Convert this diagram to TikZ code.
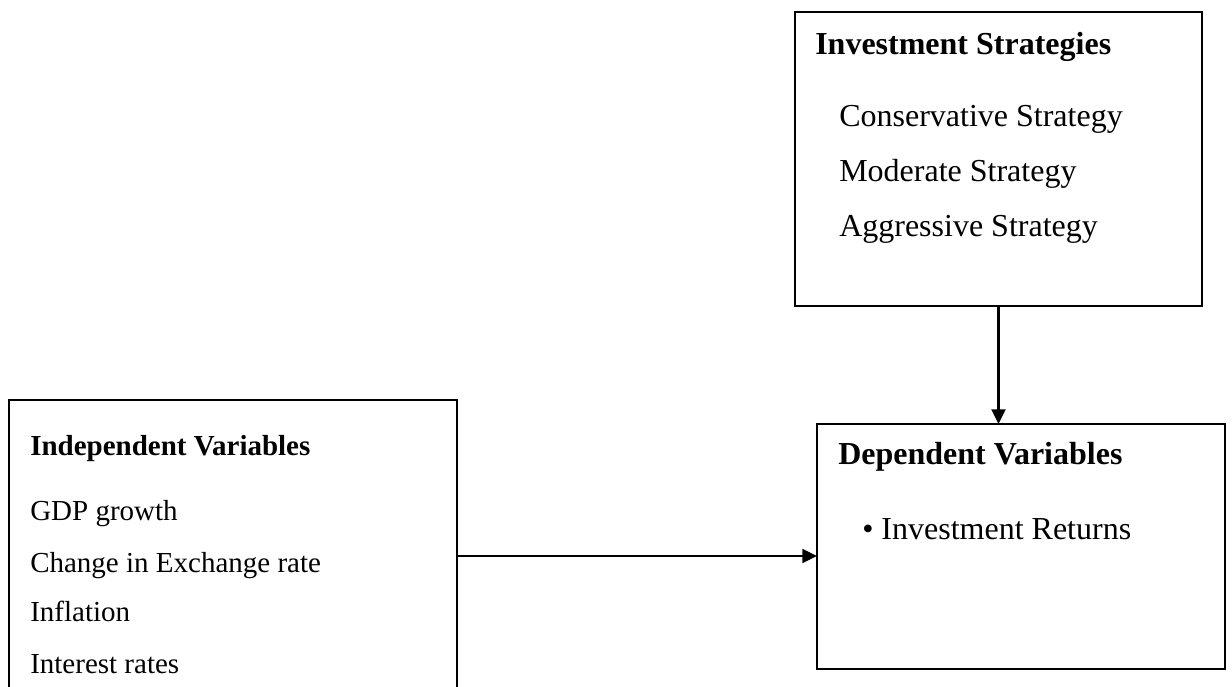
\documentclass[tikz,border=0pt]{standalone}
\usepackage{fontspec}
\setmainfont{Liberation Serif}
\usetikzlibrary{arrows.meta}
\begin{document}
\begin{tikzpicture}[x=0.75pt,y=-0.75pt,
  boxnode/.style={draw=black,line width=1.2pt,rectangle,inner sep=0pt,outer sep=0pt,anchor=north west},
  bigtext/.style={anchor=base west,inner sep=0pt,font=\fontsize{24pt}{28pt}\selectfont},
  smalltext/.style={anchor=base west,inner sep=0pt,font=\fontsize{21.75pt}{26pt}\selectfont},
  conn/.style={line width=1.7pt,-{Triangle[length=11pt,width=10.5pt]}}]
\useasboundingbox (0,0) rectangle (1232,686);
\clip (0,0) rectangle (1232,686);
% boxes
\node[boxnode,minimum width=305.25pt,minimum height=220.5pt] (inv) at (795,12) {};
\node[boxnode,minimum width=306pt,minimum height=183.75pt] (dep) at (817,424) {};
\node[boxnode,minimum width=336pt,minimum height=234pt] (indep) at (9,400) {};
% Investment Strategies text
\node[bigtext,font=\fontsize{24pt}{28pt}\selectfont\bfseries] (invt) at (815,54) {Investment Strategies};
\node[bigtext] (inv1) at (839,126) {Conservative Strategy};
\node[bigtext] (inv2) at (839,181) {Moderate Strategy};
\node[bigtext] (inv3) at (839,236) {Aggressive Strategy};
% Dependent text
\node[bigtext,font=\fontsize{24pt}{28pt}\selectfont\bfseries] (dept) at (838,464) {Dependent Variables};
\node[bigtext] (dep1) at (862,539) {\textbullet\ Investment Returns};
% Independent text
\node[smalltext,font=\fontsize{21.75pt}{26pt}\selectfont\bfseries] (indt) at (30,455) {Independent Variables};
\node[smalltext] (ind1) at (30,520) {GDP growth};
\node[smalltext] (ind2) at (30,572) {Change in Exchange rate};
\node[smalltext] (ind3) at (30,621) {Inflation};
\node[smalltext] (ind4) at (30,673) {Interest rates};
% connectors
\draw[conn] (inv.south) -- (inv.south |- dep.north);
\draw[conn] (indep.east) -- (indep.east -| dep.west);
\end{tikzpicture}
\end{document}
